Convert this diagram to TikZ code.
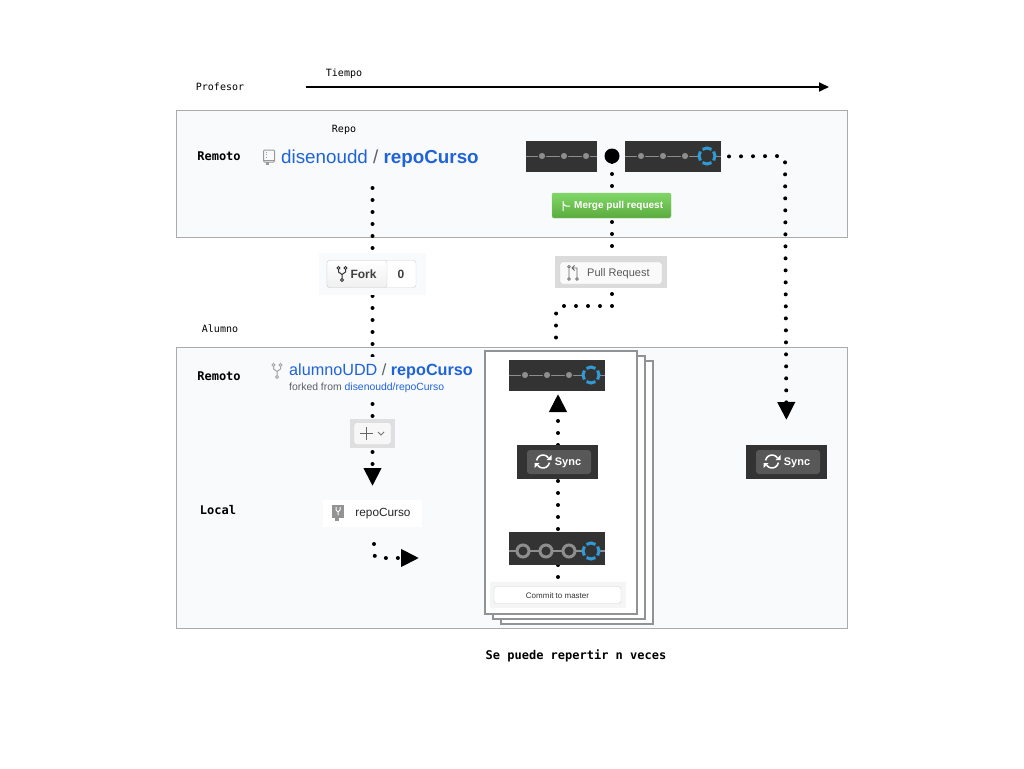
\documentclass[tikz,border=0pt]{standalone}
\usepackage{fontspec}
\setmainfont{Liberation Sans}
\setmonofont{DejaVu Sans Mono}
\usetikzlibrary{arrows.meta}
\definecolor{panelfill}{HTML}{F9FAFC}
\definecolor{panelline}{HTML}{ABABAB}
\definecolor{pageline}{HTML}{909296}
\definecolor{stripdark}{HTML}{333333}
\definecolor{stripgray}{HTML}{8E8E8E}
\definecolor{ringblue}{HTML}{2F9BD8}
\definecolor{linkblue}{HTML}{1F63D8}
\definecolor{slashgray}{HTML}{586069}
\definecolor{btnline}{HTML}{CDD0D4}
\definecolor{mergetop}{HTML}{80D768}
\definecolor{mergebot}{HTML}{5AAC3C}
\definecolor{syncgray}{HTML}{585858}
\pgfdeclarelayer{panels}
\pgfdeclarelayer{dots}
\pgfsetlayers{panels,dots,main}
\tikzset{
  panelbox/.style={draw=panelline, fill=panelfill, line width=1pt, inner sep=0, outer sep=0},
  pagebox/.style={draw=pageline, fill=white, line width=2pt, inner sep=0, outer sep=0, minimum width=152, minimum height=263},
  stripbox/.style={fill=stripdark, inner sep=0, outer sep=0},
  flatbox/.style={inner sep=0, outer sep=0},
  softbtn/.style={draw=btnline, fill=white, rounded corners=2.5pt, inner sep=0, outer sep=0},
  monolabel/.style={font=\ttfamily\fontsize{10}{12}\selectfont, inner sep=0},
  monobold/.style={font=\ttfamily\bfseries\fontsize{12}{14}\selectfont, inner sep=0},
  dotline/.style={line width=4pt, line cap=round, dash pattern=on 0pt off 12pt},
  bigtip/.style={-{Triangle[length=18pt,width=17pt]}},
  stripline/.style={draw=stripgray, line width=1.6pt},
  commitdot/.style={circle, fill=stripgray, draw=stripdark, line width=1pt, inner sep=0, minimum size=7.5},
  commitring/.style={circle, fill=stripdark, draw=stripgray, line width=3pt, inner sep=0, minimum size=12},
  headring/.pic={
    \fill[stripdark] (0,0) circle (9pt);
    \foreach \a in {0,90,180,270}
      \draw[ringblue, line width=3pt] (0,0) ++(\a-34:8pt) arc[start angle=\a-34, end angle=\a+34, radius=8pt];
  },
  syncicon/.pic={
    \draw[white, line width=1.5pt] (0,0) ++(35:6.5pt) arc[start angle=35, end angle=170, radius=6.5pt];
    \draw[white, line width=1.5pt] (0,0) ++(215:6.5pt) arc[start angle=215, end angle=350, radius=6.5pt];
    \fill[white] (3.5,-1.5) -- (8.5,-1.5) -- (8.5,-6.5) -- cycle;
    \fill[white] (-3.5,1.5) -- (-8.5,1.5) -- (-8.5,6.5) -- cycle;
  },
  forkicon/.pic={
    \draw[line width=1pt] (-3.5,-6) circle (1.5pt) (3.5,-6) circle (1.5pt) (0,6) circle (1.5pt);
    \draw[line width=1pt] (-3.5,-4.5) -- (-3.5,-2) -- (0,0.5) -- (3.5,-2) -- (3.5,-4.5) (0,0.5) -- (0,4.5);
  },
  bookicon/.pic={
    \draw[line width=1pt, rounded corners=1pt] (-5.5,5) -- (-5.5,-7) -- (5.5,-7) -- (5.5,5) -- cycle;
    \draw[line width=1pt] (-5.5,3) -- (5.5,3);
    \draw[line width=1pt, dash pattern=on 1pt off 1.5pt] (-3,-5.5) -- (-3,2);
    \fill (-3,5) rectangle (0,8);
  }
}
\begin{document}
\begin{tikzpicture}[x=1pt, y=-1pt]
\useasboundingbox (0,0) rectangle (1024,768);
% panels
\begin{pgfonlayer}{panels}
\node[panelbox, minimum width=671, minimum height=127.5] (profpanel) at (512,174) {};
\node[panelbox, minimum width=671, minimum height=281] (alumnopanel) at (512,487.5) {};
\node[pagebox] (pagec) at (577,492.5) {};
\node[pagebox] (pageb) at (568.5,487.5) {};
\node[pagebox] (pagea) at (561,482.5) {};
\end{pgfonlayer}
% labels
\node[monolabel] (tiempo) at (344,73.5) {Tiempo};
\node[monolabel] (profesor) at (220,87) {Profesor};
\node[monolabel] (repo) at (344,129.5) {Repo};
\node[monolabel] (alumno) at (220,329) {Alumno};
\node[monobold] (remotoa) at (219,156) {Remoto};
\node[monobold] (remotob) at (219,376) {Remoto};
\node[monobold] (local) at (218,510) {Local};
\node[monobold] (repetir) at (576,656) {Se puede repertir n veces};
\coordinate (timea) at (306,87);
\coordinate (timeb) at (829,87);
\draw[line width=2pt, -{Triangle[length=10pt,width=9pt]}] (timea) -- (timeb);
% repo titles
\pic[color=gray!80] at (269,157) {bookicon};
\node[inner sep=0, font=\fontsize{18.8}{20}\selectfont, anchor=west] (repotitle) at (281,158.5) {\textcolor{linkblue}{disenoudd} \textcolor{slashgray}{/} \textcolor{linkblue}{\bfseries repoCurso}};
\node[flatbox, fill=panelfill, anchor=north west, minimum width=186, minimum height=41] (alumnotitle) at (288,357) {};
\node[inner sep=0, font=\fontsize{16.2}{18}\selectfont, anchor=west] (alumnoname) at (289,371.5) {\textcolor{linkblue}{alumnoUDD} \textcolor{slashgray}{/} \textcolor{linkblue}{\bfseries repoCurso}};
\node[inner sep=0, anchor=west, font=\fontsize{10.4}{12}\selectfont] (forkedfrom) at (289,387.5) {\textcolor{slashgray}{forked from} \textcolor{linkblue}{disenoudd/repoCurso}};
\pic[color=gray!70] at (277,371) {forkicon};
% commit strips
\node[stripbox, minimum width=71, minimum height=31] (stripa) at (561.5,156.5) {};
\draw[stripline] (stripa.west) -- (stripa.east);
\foreach \x in {542,564,586} \node[commitdot] (dota\x) at (\x,156) {};
\node[circle, fill=black, inner sep=0, minimum size=15] (mergedot) at (612,156) {};
\node[stripbox, minimum width=96, minimum height=31] (stripb) at (673,156.5) {};
\draw[stripline] (stripb.west) -- (stripb.east);
\foreach \x in {641,663,685} \node[commitdot] (dotb\x) at (\x,156) {};
\pic at (707,156) {headring};
\node[stripbox, minimum width=96, minimum height=31] (stripc) at (557,375.5) {};
\draw[stripline] (stripc.west) -- (stripc.east);
\foreach \x in {525,547,569} \node[commitdot] (dotc\x) at (\x,375) {};
\pic at (591,375) {headring};
\node[stripbox, minimum width=96, minimum height=33] (stripd) at (557,548.5) {};
\draw[stripline] (stripd.west |- 0,551) -- (stripd.east |- 0,551);
\foreach \x in {523,546,569} \node[commitring] (dotd\x) at (\x,551) {};
\pic at (591,551) {headring};
% buttons
\node[flatbox, rounded corners=2pt, draw=mergebot!70, top color=mergetop, bottom color=mergebot, minimum width=119, minimum height=25] (mergebtn) at (611.5,205.5) {};
\node[font=\bfseries\fontsize{10}{12}\selectfont, text=white, inner sep=0, anchor=west] (mergetext) at (574,206) {Merge pull request};
\draw[white, line width=1pt] (563,201) -- (563,211) (563,203) .. controls (565,207) and (567,206) .. (570,206);
\node[flatbox, fill=panelfill, minimum width=107, minimum height=42] (forkback) at (372.5,274) {};
\node[softbtn, minimum width=89, minimum height=27] (forkbtn) at (371.5,274) {};
\node[flatbox, draw=btnline, top color=white, bottom color=gray!12, rounded corners=2.5pt, minimum width=60, minimum height=27] (forkleft) at (357,274) {};
\pic[color=black!80] at (342,274) {forkicon};
\node[inner sep=0, font=\fontsize{12}{14}\selectfont\bfseries, text=black!75] (forktext) at (363.5,274.5) {Fork};
\node[inner sep=0, font=\fontsize{12}{14}\selectfont\bfseries, text=black!75] (forkcount) at (401,274.5) {0};
\node[flatbox, fill=gray!28, minimum width=112, minimum height=32] (prback) at (611,272) {};
\node[softbtn, fill=gray!4, minimum width=102, minimum height=22] (prbtn) at (611,273) {};
\node[inner sep=0, anchor=west, font=\fontsize{11}{13}\selectfont, text=black!65] (prtext) at (587,274) {Pull Request};
\draw[black!60, line width=.8pt] (569,268.5) -- (569,277.5) (577,277.5) -- (577,268) -- (573,268) (574.5,265.5) -- (572,268) -- (574.5,270.5);
\draw[black!60, line width=.7pt] (569,266.8) circle (1.4pt) (569,279) circle (1.4pt) (577,279) circle (1.4pt);
\node[flatbox, fill=gray!25, minimum width=45, minimum height=29] (plusback) at (372.5,433.5) {};
\node[softbtn, fill=gray!6, minimum width=37, minimum height=22] (plusbtn) at (372.5,433.5) {};
\draw[black!60, line width=1pt] (366,427) -- (366,440) (360,433.5) -- (373,433.5);
\draw[black!55, line width=.8pt] (378,432) -- (381,435) -- (384,432);
\node[flatbox, fill=white, minimum width=99, minimum height=27] (localrepo) at (372.5,513.5) {};
\node[flatbox, fill=gray!85, minimum width=12, minimum height=13] (localicon) at (338,511.5) {};
\fill[gray!85] (335,518) rectangle (339,521);
\draw[white, line width=1pt] (336,507) -- (336,510) -- (338,512) -- (340,510) -- (340,507) (338,512) -- (338,515);
\node[inner sep=0, font=\fontsize{11.8}{13}\selectfont, text=black!85] (localtext) at (383,514) {repoCurso};
% sync buttons
\node[stripbox, minimum width=81, minimum height=34] (syncleft) at (557.5,462) {};
\node[flatbox, fill=syncgray, rounded corners=3pt, minimum width=64, minimum height=24] (syncleftbtn) at (559,462) {};
\pic at (543,461.5) {syncicon};
\node[inner sep=0, text=white, font=\bfseries\fontsize{11}{13}\selectfont] (synclefttext) at (568,463) {Sync};
\node[stripbox, minimum width=81, minimum height=34] (syncright) at (786.5,462) {};
\node[flatbox, fill=syncgray, rounded corners=3pt, minimum width=64, minimum height=24] (syncrightbtn) at (788,462) {};
\pic at (772,461.5) {syncicon};
\node[inner sep=0, text=white, font=\bfseries\fontsize{11}{13}\selectfont] (syncrighttext) at (797,463) {Sync};
% commit
\node[flatbox, fill=gray!8, minimum width=136, minimum height=26] (commitbox) at (558,595) {};
\node[softbtn, minimum width=127, minimum height=17] (commitbtn) at (557.5,595) {};
\node[inner sep=0, font=\fontsize{8}{10}\selectfont, text=black!80] (committext) at (557.5,595.5) {Commit to master};
% connectors
\coordinate (forkstart) at (372.5,188);
\coordinate (prturn) at (612,306);
\coordinate (prbend) at (556,306);
\coordinate (prend) at (556,340);
\coordinate (syncturn) at (785,156);
\coordinate (localstart) at (374,544);
\coordinate (localbend) at (374,558);
\coordinate (localend) at (419,558);
\begin{pgfonlayer}{dots}
\draw[dotline, bigtip, shorten >=14pt] (forkstart) -- (localrepo.north);
\draw[dotline, dash phase=6pt] (mergedot.center) -- (prturn) [rounded corners=8pt] -- (prbend) -- (prend);
\draw[dotline, dash phase=4pt, bigtip, rounded corners=5pt, shorten >=25pt] (stripb.east) -- (syncturn) -- (syncright.north);
\draw[dotline, dash phase=7pt, bigtip, shorten >=3pt] (commitbox.north) -- (commitbox.north |- stripc.south);
\draw[dotline, bigtip, rounded corners=4pt] (localstart) -- (localbend) -- (localend);
\end{pgfonlayer}
\end{tikzpicture}
\end{document}
